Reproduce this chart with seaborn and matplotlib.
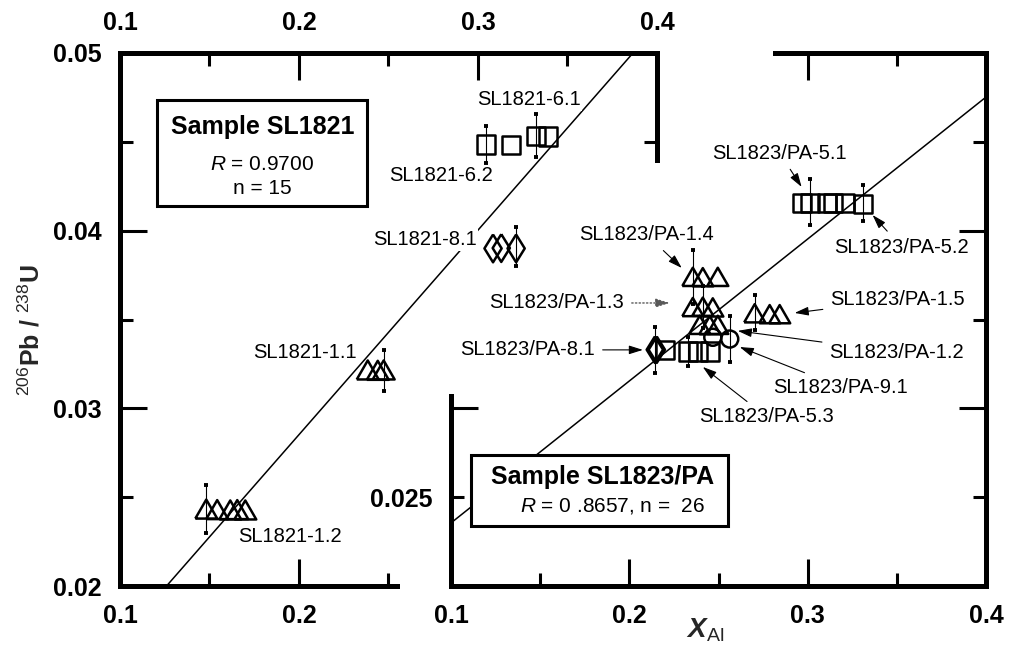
import numpy as np
import matplotlib
matplotlib.use("Agg")
import matplotlib.pyplot as plt
import seaborn as sns
from matplotlib.patches import Rectangle

# ---------------- data ----------------
# Sample SL1821 (upper-left axes)
s21_tri12_x = [0.1482, 0.1543, 0.1616, 0.1655, 0.1700]
s21_tri12_y = [0.02433, 0.02430, 0.02428, 0.02430, 0.02428]
s21_tri11_x = [0.2384, 0.2440, 0.2473]
s21_tri11_y = [0.03216, 0.03214, 0.03216]
s21_dia81_x = [0.3084, 0.3130, 0.3213]
s21_dia81_y = [0.03900, 0.03902, 0.03900]
s21_sq62_x = [0.3045, 0.3185]
s21_sq62_y = [0.04485, 0.04482]
s21_sq61_x = [0.3325, 0.3392]
s21_sq61_y = [0.04532, 0.04530]
s21_err_x = [0.1482, 0.2473, 0.3213, 0.3045, 0.3325]
s21_err_y = [0.02435, 0.03215, 0.03910, 0.04485, 0.04535]
s21_err_e = [0.00135, 0.00115, 0.00110, 0.00105, 0.00120]
s21_fit_slope = 0.11512
s21_fit_icpt = 0.005495

# Sample SL1823/PA (lower-right axes)
s23_sq5_x = [0.2966, 0.3011, 0.3106, 0.3140, 0.3207, 0.3308]
s23_sq5_y = [0.04156, 0.04156, 0.04156, 0.04156, 0.04156, 0.04152]
s23_tri14_x = [0.2356, 0.2412, 0.2496]
s23_tri14_y = [0.03740, 0.03738, 0.03740]
s23_tri13_x = [0.2356, 0.2412, 0.2468]
s23_tri13_y = [0.03570, 0.03572, 0.03568]
s23_trim_x = [0.2395, 0.2451, 0.2496]
s23_trim_y = [0.03470, 0.03468, 0.03470]
s23_tri15_x = [0.2703, 0.2787, 0.2843]
s23_tri15_y = [0.03535, 0.03530, 0.03530]
s23_dia81_x = [0.2143, 0.2154]
s23_dia81_y = [0.03330, 0.03330]
s23_sq53_x = [0.2199, 0.2328, 0.2384, 0.2451]
s23_sq53_y = [0.03330, 0.03320, 0.03320, 0.03320]
s23_circ_x = [0.2468, 0.2563]
s23_circ_y = [0.03400, 0.03390]
s23_err_x = [0.3011, 0.3308, 0.2356, 0.2412, 0.2563, 0.2143, 0.2328, 0.2703]
s23_err_y = [0.04160, 0.04155, 0.03740, 0.03570, 0.03390, 0.03330, 0.03320, 0.03540]
s23_err_e = [0.00130, 0.00100, 0.00150, 0.00120, 0.00130, 0.00130, 0.00080, 0.00100]
s23_fit_slope = 0.0799
s23_fit_icpt = 0.01556

x_major = [0.1, 0.2, 0.3, 0.4]
x_minor = [0.15, 0.25, 0.35]
y_major = [0.02, 0.03, 0.04, 0.05]
y_minor = [0.025, 0.035, 0.045]
x_major_labels = ["0.1", "0.2", "0.3", "0.4"]
y_major_labels = ["0.02", "0.03", "0.04", "0.05"]
y_minor_labels = ["0.025", "0.035", "0.045"]

# ---------------- style ----------------
sns.set_theme(style="white", rc={"axes.edgecolor": "black", "xtick.color": "black",
                                 "ytick.color": "black", "text.color": "black"})
plt.rcParams["font.family"] = ["Liberation Sans", "DejaVu Sans"]
plt.rcParams["mathtext.fontset"] = "custom"
plt.rcParams["mathtext.rm"] = "Liberation Sans"
plt.rcParams["mathtext.it"] = "Liberation Sans:italic"
plt.rcParams["mathtext.bf"] = "Liberation Sans:bold"
plt.rcParams["mathtext.bfit"] = "Liberation Sans:italic:bold"

W, H = 1019, 648
fig = plt.figure(figsize=(W / 100, H / 100), dpi=100)
fig.patch.set_facecolor("white")
ax1 = fig.add_axes([120 / W, 62 / H, 537 / W, 533 / H])
ax2 = fig.add_axes([451 / W, 62 / H, 535 / W, 533 / H])
ax2.patch.set_visible(False)

tri = [(-1, -0.866), (1, -0.866), (0, 0.866), (-1, -0.866)]
dia = [(0, 1), (0.62, 0), (0, -1), (-0.62, 0), (0, 1)]
mk = dict(facecolor="none", edgecolor="black", linewidth=1.8, zorder=3, legend=False)

# ---- SL1821 ----
sns.scatterplot(x=s21_tri12_x, y=s21_tri12_y, marker=tri, s=250, ax=ax1, **mk)
sns.scatterplot(x=s21_tri11_x, y=s21_tri11_y, marker=tri, s=250, ax=ax1, **mk)
sns.scatterplot(x=s21_dia81_x, y=s21_dia81_y, marker=dia, s=400, ax=ax1, **mk)
sns.scatterplot(x=s21_sq62_x, y=s21_sq62_y, marker="s", s=170, ax=ax1, **mk)
sns.scatterplot(x=s21_sq61_x, y=s21_sq61_y, marker="s", s=170, ax=ax1, **mk)
ax1.errorbar(s21_err_x, s21_err_y, yerr=s21_err_e, fmt="none", ecolor="black",
             elinewidth=0.8, capsize=1.4, capthick=2.8, zorder=3.5)
ax1.axline((0.2, s21_fit_icpt + 0.2 * s21_fit_slope), slope=s21_fit_slope,
           color="black", lw=1.1, zorder=2)

# ---- SL1823/PA ----
sns.scatterplot(x=s23_sq5_x, y=s23_sq5_y, marker="s", s=170, ax=ax2, **mk)
sns.scatterplot(x=s23_tri14_x, y=s23_tri14_y, marker=tri, s=230, ax=ax2, **mk)
sns.scatterplot(x=s23_tri13_x, y=s23_tri13_y, marker=tri, s=230, ax=ax2, **mk)
sns.scatterplot(x=s23_trim_x, y=s23_trim_y, marker=tri, s=230, ax=ax2, **mk)
sns.scatterplot(x=s23_tri15_x, y=s23_tri15_y, marker=tri, s=230, ax=ax2, **mk)
sns.scatterplot(x=s23_dia81_x, y=s23_dia81_y, marker=dia, s=360, ax=ax2, **mk)
sns.scatterplot(x=s23_sq53_x, y=s23_sq53_y, marker="s", s=170, ax=ax2, **mk)
sns.scatterplot(x=s23_circ_x, y=s23_circ_y, marker="o", s=150, ax=ax2, **mk)
ax2.errorbar(s23_err_x, s23_err_y, yerr=s23_err_e, fmt="none", ecolor="black",
             elinewidth=0.8, capsize=1.4, capthick=2.8, zorder=3.5)
ax2.axline((0.2, s23_fit_icpt + 0.2 * s23_fit_slope), slope=s23_fit_slope,
           color="black", lw=1.1, zorder=2)

for ax in (ax1, ax2):
    ax.set_xlim(0.1, 0.4)
    ax.set_ylim(0.02, 0.05)
    ax.set_xlabel("")
    ax.set_ylabel("")
    for sp in ax.spines.values():
        sp.set_linewidth(3.6)
        sp.set_color("black")
        sp.set_visible(True)
    ax.set_xticks(x_major, labels=x_major_labels)
    ax.set_xticks(x_minor, minor=True)
    ax.set_yticks(y_major, labels=y_major_labels)
    ax.set_yticks(y_minor, labels=y_minor_labels, minor=True)
    ax.tick_params(which="both", direction="in", width=2.2, color="black",
                   labelsize=18, pad=13, top=True, bottom=True, left=True, right=True,
                   labeltop=True, labelbottom=True, labelleft=True, labelright=False)
    ax.tick_params(which="major", length=19.4)
    ax.tick_params(which="minor", length=9.6)

ax1.spines["right"].set_bounds(0.044, 0.05)
ax1.spines["bottom"].set_bounds(0.1, 0.255)
ax2.spines["left"].set_bounds(0.02, 0.0307)
ax2.spines["top"].set_bounds(0.2815, 0.4)


def style_ticks(ticks, show1, show2, lab1, lab2):
    for t, s1, s2, l1, l2 in zip(ticks, show1, show2, lab1, lab2):
        t.tick1line.set_visible(s1)
        t.tick2line.set_visible(s2)
        t.label1.set_visible(l1)
        t.label2.set_visible(l2)
        t.label1.set_fontweight("bold")
        t.label2.set_fontweight("bold")


T, F = True, False
# left (SL1821) axes
style_ticks(ax1.xaxis.get_major_ticks(), [F, T, F, F], [F, T, T, F], [T, T, F, F], [T, T, T, T])
style_ticks(ax1.xaxis.get_minor_ticks(), [T, T, F], [T, T, T], [F, F, F], [F, F, F])
style_ticks(ax1.yaxis.get_major_ticks(), [F, T, T, F], [F, F, F, F], [T, T, T, T], [F, F, F, F])
style_ticks(ax1.yaxis.get_minor_ticks(), [T, T, T], [F, F, T], [F, F, F], [F, F, F])
# right (SL1823/PA) axes
style_ticks(ax2.xaxis.get_major_ticks(), [F, T, T, F], [F, F, T, F], [T, T, T, T], [F, F, F, F])
style_ticks(ax2.xaxis.get_minor_ticks(), [T, T, T], [F, F, T], [F, F, F], [F, F, F])
style_ticks(ax2.yaxis.get_major_ticks(), [F, T, F, F], [F, T, T, F], [F, F, F, F], [F, F, F, F])
style_ticks(ax2.yaxis.get_minor_ticks(), [T, F, F], [T, T, T], [T, F, F], [F, F, F])

# axis titles
ax1.set_ylabel(r"$^{206}$Pb / $^{238}$U", fontsize=18, fontweight="bold")
ax1.yaxis.set_label_coords(-0.14, 0.48)
ax2.set_xlabel(r"$\mathbfit{X}_{\mathrm{Al}}$", fontsize=20)
ax2.xaxis.set_label_coords(0.475, -0.058)

# ---- SL1821 labels ----
lab_kw = dict(ha="center", va="center", fontsize=14.5, zorder=2.5,
              bbox=dict(facecolor="white", edgecolor="none", pad=1.0))
ax1.text(0.3286, 0.04736, "SL1821-6.1", **lab_kw)
ax1.text(0.2793, 0.04308, "SL1821-6.2", **lab_kw)
ax1.text(0.2703, 0.03948, "SL1821-8.1", **lab_kw)
ax1.text(0.2036, 0.03312, "SL1821-1.1", **lab_kw)
ax1.text(0.1947, 0.02276, "SL1821-1.2", **lab_kw)

ax1.add_patch(Rectangle((0.1207, 0.04139), 0.2378 - 0.1207, 0.04736 - 0.04139,
                        facecolor="white", edgecolor="black", lw=2.2, zorder=4))
ax1.text(0.1796, 0.04584, "Sample SL1821", ha="center", va="center",
         fontsize=18, fontweight="bold", zorder=5)
ax1.text(0.1796, 0.04370, r"$R$ = 0.9700", ha="center", va="center", fontsize=15, zorder=5)
ax1.text(0.1796, 0.04240, "n = 15", ha="center", va="center", fontsize=15, zorder=5)

# ---- SL1823/PA labels with arrows ----
arr = dict(arrowstyle="-|>,head_length=0.7,head_width=0.22", color="black",
           lw=0.8, shrinkA=3, shrinkB=0, mutation_scale=12)
ann = [
    ("SL1823/PA-5.1", (0.2966, 0.04246), (0.2843, 0.04437)),
    ("SL1823/PA-5.2", (0.3364, 0.04088), (0.3527, 0.03908)),
    ("SL1823/PA-1.4", (0.2294, 0.03790), (0.2098, 0.03976)),
    ("SL1823/PA-1.5", (0.2927, 0.03537), (0.3504, 0.03610)),
    ("SL1823/PA-8.1", (0.2076, 0.03329), (0.1431, 0.03329)),
    ("SL1823/PA-1.2", (0.2608, 0.03436), (0.3499, 0.03317)),
    ("SL1823/PA-9.1", (0.2619, 0.03345), (0.3185, 0.03120)),
    ("SL1823/PA-5.3", (0.2412, 0.03233), (0.2770, 0.02952)),
]
for txt, tip, pos in ann:
    ax2.annotate(txt, xy=tip, xytext=pos, ha="center", va="center", fontsize=14.5,
                 arrowprops=arr, zorder=4)
arr13 = dict(arr, color="0.35", linestyle=":", lw=1.0)
ax2.annotate("SL1823/PA-1.3", xy=(0.2227, 0.03593), xytext=(0.1594, 0.03593),
             ha="center", va="center", fontsize=14.5, arrowprops=arr13, zorder=4)

ax2.add_patch(Rectangle((0.1112, 0.02338), 0.2552 - 0.1112, 0.02738 - 0.02338,
                        facecolor="white", edgecolor="black", lw=2.2, zorder=4))
ax2.text(0.1852, 0.02614, "Sample SL1823/PA", ha="center", va="center",
         fontsize=18, fontweight="bold", zorder=5)
ax2.text(0.1387, 0.02451, r"$R$ = 0 .8657, n =  26", ha="left", va="center",
         fontsize=15, zorder=5)

fig.savefig("out.png", dpi=100, facecolor="white")
